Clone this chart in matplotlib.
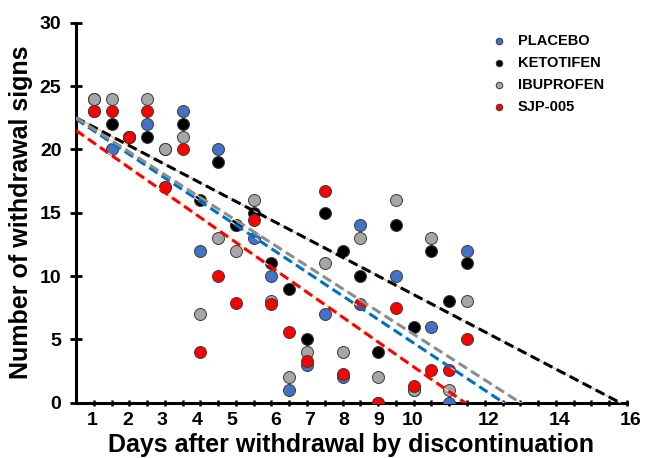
import numpy as np
import matplotlib
matplotlib.use("Agg")
import matplotlib.pyplot as plt
import matplotlib.transforms as mtransforms

plt.rcParams['font.family'] = ['Liberation Sans', 'DejaVu Sans']
plt.rcParams['font.weight'] = 'bold'

# days of observation (every half day)
days = [1, 1.5, 2, 2.5, 3, 3.5, 4, 4.5, 5, 5.5, 6, 6.5, 7, 7.5, 8, 8.5,
        9, 9.5, 10, 10.5, 11, 11.5]

placebo   = [23, 20, 21, 22, 20, 23, 12, 20, 14, 13, 10, 1, 3, 7, 2, 14,
             0, 10, 1, 6, 0, 12]
ketotifen = [24, 22, 21, 21, 17, 22, 16, 19, 14, 15, 11, 9, 5, 15, 12, 10,
             4, 14, 6, 12, 8, 11]
ibuprofen = [24, 24, 21, 24, 20, 21, 7, 13, 12, 16, 8, 2, 4, 11, 4, 13,
             2, 16, 1, 13, 1, 8]
sjp005    = [23, 23, 21, 23, 17, 20, 4, 10, 7.9, 14.4, 7.8, 5.6, 3.3, 16.7, 2.3, 7.8,
             0, 7.5, 1.3, 2.6, 2.6, 5]

# linear trends (intercept, slope)
trend_placebo   = (23.33, -1.862)
trend_ketotifen = (23.235, -1.47)
trend_ibuprofen = (23.4, -1.8)
trend_sjp005    = (22.48, -1.965)

x_tick_labels = ['1', '2', '3', '4', '5', '6', '7', '8', '9', '10', '12', '14', '16']
x_tick_pos    = [0.97, 1.95, 2.92, 3.92, 4.88, 6.12, 7.07, 8.04, 9.01, 9.96, 12.11, 14.11, 16.11]

series = [
    ('PLACEBO',   placebo,   '#4472C4', trend_placebo,   '#0070C0', '#DDEBF7'),
    ('KETOTIFEN', ketotifen, '#000000', trend_ketotifen, '#000000', '#F4B183'),
    ('IBUPROFEN', ibuprofen, '#A6A6A6', trend_ibuprofen, '#8C8C8C', '#EDEDED'),
    ('SJP-005',   sjp005,    '#FF0000', trend_sjp005,    '#FF0000', '#FFE699'),
]

fig = plt.figure(figsize=(6.46, 4.58), dpi=100)
ax = fig.add_axes([0.1176, 0.1207, 0.8530, 0.8297])

xs = np.array([0.5, 16])
for name, vals, col, (b, m), lcol, under in series:
    ax.scatter(days, vals, s=74, color=col, edgecolors='#3a3a3a',
               linewidths=0.7, zorder=3, label=name)
    ax.plot(xs, b + m * xs, color=under, lw=0.8, zorder=4)
    ax.plot(xs, b + m * xs, color=lcol, lw=2.2, dashes=(3.2, 1.6), zorder=5)

ax.set_xlim(0.5, 16)
ax.set_ylim(0, 30)
ax.set_yticks(np.arange(0, 31, 5))
ax.set_xticks(np.arange(1, 16.01, 0.5))
ax.set_xticklabels([])

for side in ['top', 'right']:
    ax.spines[side].set_visible(False)
for side in ['left', 'bottom']:
    ax.spines[side].set_linewidth(2.2)

ax.tick_params(axis='y', direction='inout', length=9, width=2, labelsize=14, pad=6)
ax.tick_params(axis='x', direction='inout', length=4.5, width=1.8)

trans = mtransforms.blended_transform_factory(ax.transData, ax.transAxes)
for pos, lab in zip(x_tick_pos, x_tick_labels):
    ax.text(pos, -0.025, lab, transform=trans, ha='center', va='top',
            fontsize=14, fontweight='bold', clip_on=False)

ax.set_xlabel('Days after withdrawal by discontinuation', fontsize=18,
              fontweight='bold', labelpad=16)
ax.set_ylabel('Number of withdrawal signs', fontsize=18,
              fontweight='bold', labelpad=5)

ax.legend(loc='upper left', bbox_to_anchor=(0.73, 0.985), frameon=False,
          markerscale=0.55, fontsize=10.5, handletextpad=0.3,
          labelspacing=0.54, borderaxespad=0)

fig.savefig('out.png', dpi=100)
